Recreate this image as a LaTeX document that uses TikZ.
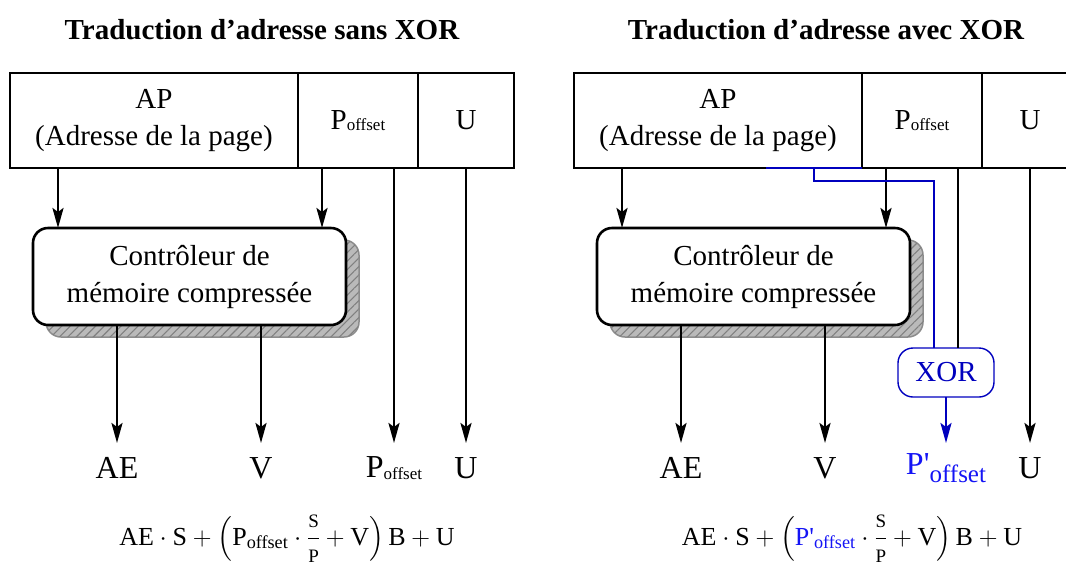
\documentclass[tikz,border=0pt]{standalone}
\usepackage{fix-cm}
\usepackage{amsmath}
\usepackage{fontspec}
\setmainfont{Liberation Serif}
\usetikzlibrary{arrows.meta,patterns.meta}
\definecolor{dblue}{RGB}{0,0,190}
\definecolor{lblue}{RGB}{20,20,245}
\pgfdeclarelayer{bg}
\pgfsetlayers{bg,main}
\newcommand{\boxfont}{\fontsize{29}{37}\selectfont}
\newcommand{\lblfont}{\fontsize{32}{37}\selectfont}
\newcommand{\eqfont}{\fontsize{26}{30}\selectfont}
\newcommand{\poff}{P\raisebox{-1.5pt}{\fontsize{17}{17}\selectfont offset}}
\newcommand{\ppoff}{P\textquotesingle\raisebox{-8pt}{\fontsize{25}{25}\selectfont offset}}
\newcommand{\fs}[1]{\text{\fontsize{19}{19}\selectfont #1}}
\begin{document}
\begin{tikzpicture}[x=1pt,y=-1pt,
  cell/.style={draw, line width=1.2pt, inner sep=0pt, outer sep=0pt, minimum height=95pt, align=center, font=\boxfont},
  ctrl/.style={draw, fill=white, line width=2.6pt, rounded corners=15pt, inner sep=0pt, outer sep=0pt, minimum width=313pt, minimum height=97pt, align=center, font=\boxfont},
  shadowbox/.style={rounded corners=15pt, fill=black!27, draw=black!45, line width=1.5pt,
    postaction={pattern={Lines[angle=45,distance=6pt,line width=1.1pt]}, pattern color=black!50}},
  xorbox/.style={draw=dblue, text=dblue, line width=1.4pt, rounded corners=15pt, inner sep=0pt, outer sep=0pt, minimum width=96pt, minimum height=49pt, font=\boxfont},
  lbl/.style={inner sep=0pt, outer sep=0pt, minimum height=50pt, font=\lblfont},
  arr/.style={line width=2.6pt, -{Stealth[length=20pt,width=11pt,inset=4pt]}},
  plain/.style={line width=2.6pt},
  barr/.style={line width=2.4pt, draw=dblue, -{Stealth[length=20pt,width=11pt,inset=4pt]}},
  bline/.style={line width=2.2pt, draw=dblue},
  title/.style={font=\fontsize{29}{35}\selectfont\bfseries},
  eq/.style={font=\eqfont, anchor=base, inner sep=0pt}]
\useasboundingbox (0,0) rectangle (1066,566);

% ---------------- left panel ----------------
\node[title] (tL) at (262,30) {Traduction d’adresse sans XOR};
\node[cell, minimum width=288pt] (apL) at (154,120.5) {AP\\(Adresse de la page)};
\node[cell, minimum width=120pt] (poL) at (358,120.5) {\poff};
\node[cell, minimum width=96pt] (uL) at (466,120.5) {U};
\node[ctrl] (cL) at (189.5,276.5) {Contrôleur de\\mémoire compressée};
\begin{pgfonlayer}{bg}
\path[shadowbox] ([shift={(13,12)}]cL.north west) rectangle ([shift={(13,12)}]cL.south east);
\end{pgfonlayer}
\node[lbl] (aeL) at (117,468) {AE};
\node[lbl] (vL) at (261,468) {V};
\node[lbl] (pL) at (394,468) {\poff};
\node[lbl] (uoL) at (466,468) {U};
\node[eq] (eqL) at (287,545) {$\text{AE}\cdot\text{S}+\Bigl(\text{P}_{\text{offset}}\cdot\dfrac{\fs{S}}{\fs{P}}+\text{V}\Bigr)\,\text{B}+\text{U}$};

\draw[arr] ([xshift=48pt]apL.south west) -- ([xshift=48pt]apL.south west |- cL.north);
\draw[arr] ([xshift=-36pt]poL.south) -- ([xshift=-36pt]poL.south |- cL.north);
\draw[arr] (cL.south -| aeL.north) -- (aeL.north);
\draw[arr] (cL.south -| vL.north) -- (vL.north);
\draw[arr] (poL.south -| pL.north) -- (pL.north);
\draw[arr] (uL.south) -- (uoL.north);

% ---------------- right panel ----------------
\node[title] (tR) at (826,30) {Traduction d’adresse avec XOR};
\node[cell, minimum width=288pt] (apR) at (718,120.5) {AP\\(Adresse de la page)};
\node[cell, minimum width=120pt] (poR) at (922,120.5) {\poff};
\node[cell, minimum width=96pt] (uR) at (1030,120.5) {U};
\node[ctrl] (cR) at (753.5,276.5) {Contrôleur de\\mémoire compressée};
\begin{pgfonlayer}{bg}
\path[shadowbox] ([shift={(13,12)}]cR.north west) rectangle ([shift={(13,12)}]cR.south east);
\end{pgfonlayer}
\node[xorbox] (xor) at (946,372.5) {XOR};
\node[lbl] (aeR) at (681,468) {AE};
\node[lbl] (vR) at (825,468) {V};
\node[lbl, text=lblue] (pR) at (946,468) {\ppoff};
\node[lbl] (uoR) at (1030,468) {U};
\node[eq] (eqR) at (852,545) {$\text{AE}\cdot\text{S}+\Bigl(\textcolor{lblue}{\text{P\textquotesingle}_{\text{offset}}}\cdot\dfrac{\fs{S}}{\fs{P}}+\text{V}\Bigr)\,\text{B}+\text{U}$};

\draw[arr] ([xshift=48pt]apR.south west) -- ([xshift=48pt]apR.south west |- cR.north);
\draw[arr] ([xshift=-36pt]poR.south) -- ([xshift=-36pt]poR.south |- cR.north);
\draw[arr] (cR.south -| aeR.north) -- (aeR.north);
\draw[arr] (cR.south -| vR.north) -- (vR.north);
\draw[plain] ([xshift=36pt]poR.south) -- ([xshift=36pt]poR.south |- xor.north);
\draw[arr] (uR.south) -- (uoR.north);
\draw[bline] ([xshift=-96pt]apR.south east) -- (apR.south east);
\coordinate (bk) at ([xshift=-48pt,yshift=-13pt]apR.south east);
\coordinate (bx) at ([xshift=-12pt]xor.north);
\draw[bline] ([xshift=-48pt]apR.south east) -- (bk) -- (bk -| bx) -- (bx);
\draw[barr] (xor.south) -- (pR.north);
\end{tikzpicture}
\end{document}
